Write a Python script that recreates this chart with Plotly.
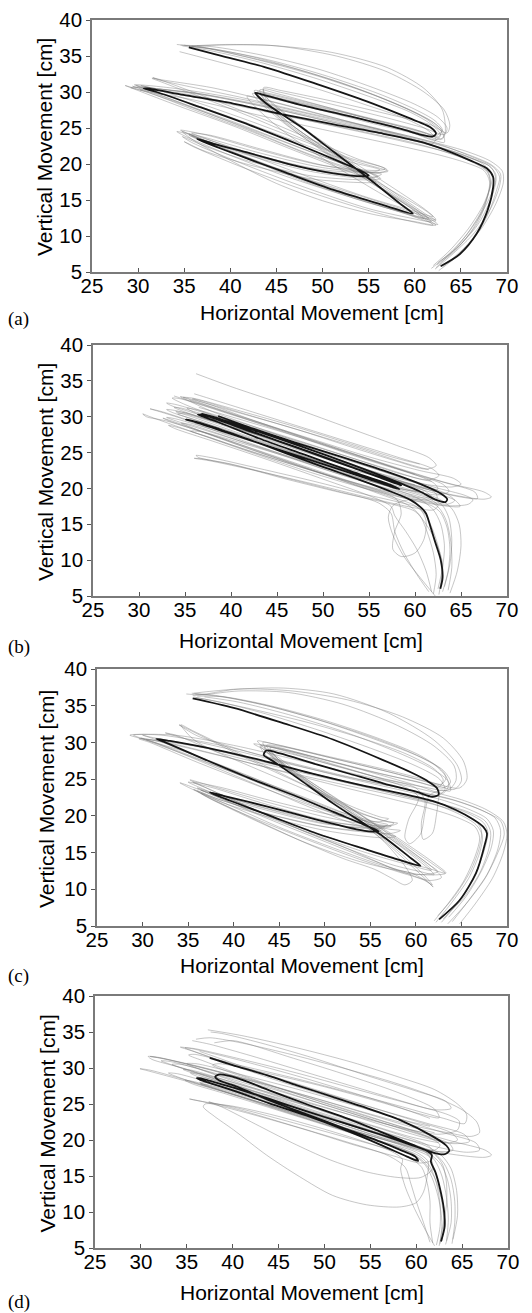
import plotly.graph_objects as go

# ---------------- data (cm) ----------------
x_tick_vals = [25, 30, 35, 40, 45, 50, 55, 60, 65, 70]
y_tick_vals = [5, 10, 15, 20, 25, 30, 35, 40]
panel_labels = ["(a)", "(b)", "(c)", "(d)"]
x_title = "Horizontal Movement [cm]"
y_title = "Vertical Movement [cm]"

# ---- panel (a) ----
a_mean = [(62.8,5.8),(64.9,7.5),(66.7,10.3),(67.9,13.6),(68.5,16.8),(68.5,18.2),(67.8,19.4),(66.0,20.5),(63.4,21.9),(60.9,23.0),(56.6,24.2),(51.2,25.5),(46.1,26.8),(40.3,28.4),(34.9,29.6),(31.0,30.5),(30.6,30.5),(32.0,30.0),(36.7,27.9),(42.1,25.4),(47.6,22.6),(51.9,20.3),(54.4,18.9),(55.0,18.4),(54.4,18.3),(51.2,18.7),(47.6,19.6),(42.1,21.5),(38.2,22.8),(36.4,23.5),(36.7,23.3),(40.3,21.5),(45.8,18.9),(51.2,16.4),(56.6,14.3),(59.8,13.1),(58.4,14.5),(54.8,18.2),(51.2,21.7),(47.6,25.2),(43.9,28.4),(42.7,29.9),(43.6,29.6),(47.6,28.2),(53.0,26.6),(58.4,24.9),(60.9,24.0),(61.9,23.8),(62.3,24.2),(61.8,25.0),(60.3,25.9),(58.4,26.9),(54.8,28.7),(49.4,31.1),(43.9,33.4),(38.5,35.2),(35.5,36.2)]
a_trial_1 = [(62.2,5.4),(64.2,7.6),(66.5,10.5),(68.3,14.0),(69.2,17.0),(69.3,18.6),(68.3,19.9),(66.0,21.2),(63.0,22.5),(57.0,24.5),(50.0,26.5),(42.0,28.8),(34.0,30.5),(29.6,31.0),(30.5,30.6),(36.0,28.3),(42.0,25.6),(48.0,22.7),(53.0,20.3),(56.2,19.2),(55.5,18.9),(50.0,19.5),(43.0,21.6),(37.5,23.6),(35.5,24.2),(36.2,23.8),(41.0,21.3),(48.0,18.0),(55.0,14.9),(60.5,12.6),(62.3,12.1),(61.0,13.2),(56.0,17.6),(50.0,23.0),(45.5,27.5),(43.5,29.8),(44.8,29.3),(50.0,27.8),(56.0,26.0),(61.0,24.4),(63.0,23.5),(63.3,24.3),(63.0,27.5),(61.0,30.5),(57.0,33.4),(51.0,35.5),(44.0,36.5),(38.5,36.5),(35.5,36.3)]
a_trial_2 = [(62.5,6.3),(64.5,8.3),(66.8,11.5),(68.2,15.0),(68.8,17.8),(68.3,19.5),(66.2,20.8),(63.5,22.0),(58.0,23.8),(51.0,25.8),(44.0,27.9),(37.0,29.6),(30.8,30.6),(29.2,30.6),(30.4,30.2),(35.0,28.2),(41.0,25.4),(47.0,22.5),(52.0,20.1),(55.8,18.4),(56.3,18.0),(55.2,17.8),(49.0,18.3),(42.0,20.4),(37.0,22.6),(34.8,23.8),(35.8,23.0),(41.0,20.2),(48.0,16.8),(55.0,13.8),(59.5,12.5),(61.8,12.0),(60.8,13.0),(56.0,16.8),(50.5,21.5),(46.0,25.5),(43.0,28.8),(42.4,29.8),(44.0,29.3),(50.0,27.4),(55.5,25.6),(60.0,24.2),(62.2,23.3),(62.8,24.0),(62.0,25.3),(59.5,27.2),(55.0,29.4),(49.0,32.0),(43.0,34.2),(38.0,35.7),(34.8,36.4)]
a_trial_3 = [(62.0,5.9),(63.8,8.0),(65.8,11.0),(67.5,14.5),(68.2,17.4),(67.8,19.0),(66.0,20.4),(63.0,21.8),(57.5,23.5),(50.0,25.6),(43.0,27.6),(37.0,29.3),(32.5,30.2),(30.2,30.3),(31.0,30.0),(36.5,27.3),(42.5,24.4),(48.5,21.3),(53.0,19.2),(54.6,18.7),(53.8,18.5),(48.0,19.5),(41.0,21.8),(36.2,23.7),(35.5,24.0),(36.5,23.4),(42.0,20.7),(49.0,17.3),(55.0,14.7),(59.0,13.1),(61.0,12.4),(60.0,13.5),(55.5,17.2),(50.0,21.8),(45.5,26.2),(43.8,28.8),(43.2,30.3),(45.0,29.8),(51.0,27.7),(57.0,25.5),(61.5,23.6),(63.2,23.0),(63.0,24.3),(61.3,26.2),(58.0,28.3),(52.0,31.3),(46.0,33.6),(40.0,35.4),(36.4,36.4)]
a_trial_4 = [(62.6,5.2),(64.6,7.2),(66.6,10.0),(68.0,13.2),(68.9,16.5),(69.2,18.2),(68.5,19.6),(66.2,21.0),(62.5,22.8),(56.0,24.9),(50.0,26.8),(44.0,28.8),(38.0,30.6),(33.0,31.6),(31.5,31.9),(32.5,31.4),(37.0,29.2),(42.5,26.4),(48.0,23.4),(53.0,20.8),(56.8,19.4),(57.1,19.0),(56.0,18.8),(50.0,19.2),(43.0,21.2),(37.0,23.6),(34.2,24.5),(35.2,23.8),(40.0,21.2),(46.0,18.3),(53.0,15.4),(58.5,13.3),(62.5,11.6),(61.2,12.8),(57.0,16.2),(51.0,21.2),(46.0,25.8),(43.4,28.6),(42.6,30.2),(44.2,29.8),(49.5,28.2),(55.0,26.4),(59.5,25.0),(62.4,24.0),(63.0,24.7),(62.2,26.0),(60.0,27.6),(56.0,29.8),(50.0,32.4),(44.0,34.5),(38.0,36.0),(34.2,36.6)]
a_trial_5 = [(62.9,6.6),(64.8,8.6),(66.8,11.8),(67.8,15.0),(68.1,17.6),(67.5,19.1),(65.5,20.2),(62.5,21.3),(57.0,22.9),(50.0,24.8),(43.0,26.8),(36.0,28.9),(30.5,30.2),(28.6,30.9),(29.8,30.3),(34.5,28.0),(40.5,25.2),(46.5,22.1),(51.5,19.6),(55.3,17.8),(55.8,17.5),(54.8,17.4),(49.0,17.9),(42.0,19.9),(37.0,21.9),(35.0,23.1),(36.0,22.4),(41.0,19.7),(47.5,16.6),(54.0,13.9),(59.0,12.2),(62.0,11.5),(60.5,12.8),(55.5,16.5),(50.0,20.8),(45.5,24.8),(42.5,28.2),(41.8,29.4),(43.5,29.0),(49.0,27.2),(54.5,25.3),(59.0,23.8),(61.8,22.8),(62.3,23.4),(61.5,24.6),(59.0,26.3),(54.5,28.3),(48.5,30.8),(42.5,32.9),(37.5,34.6),(34.5,35.6)]
a_trial_6 = [(62.3,5.6),(64.0,7.7),(66.0,10.8),(67.6,14.0),(68.6,16.8),(68.8,18.5),(68.0,19.8),(65.8,20.9),(62.8,22.2),(57.0,24.2),(50.5,26.0),(43.5,28.0),(36.5,29.8),(31.2,30.6),(29.8,30.9),(30.8,30.4),(36.0,27.8),(42.0,24.8),(47.5,21.9),(52.5,19.6),(55.6,18.6),(56.0,18.3),(55.0,18.0),(49.0,18.9),(42.0,21.2),(37.0,23.4),(34.8,24.5),(36.0,23.3),(40.0,20.5),(45.0,17.3),(50.0,14.9),(55.5,13.0),(60.0,12.0),(62.3,11.5),(61.0,12.6),(56.5,16.6),(51.0,21.4),(46.5,25.6),(44.0,28.5),(43.3,29.7),(45.0,29.2),(50.5,27.5),(56.0,25.7),(60.5,24.3),(62.8,23.4),(63.2,24.2),(62.3,25.5),(59.5,27.5),(55.0,29.9),(49.0,32.5),(43.0,34.7),(38.5,35.9),(35.8,36.3)]
a_trial_7 = [(62.4,6.0),(64.4,8.0),(66.3,11.0),(67.6,14.4),(68.2,17.2),(68.0,18.8),(66.8,20.0),(64.0,21.4),(60.0,22.9),(54.0,24.6),(47.0,26.4),(40.0,28.3),(34.0,29.8),(30.0,30.6),(29.4,30.8),(30.6,30.3),(35.5,28.1),(41.5,25.3),(47.5,22.3),(52.5,19.9),(55.4,18.8),(56.4,18.6),(55.6,18.2),(50.0,18.9),(43.0,21.0),(37.8,23.0),(35.8,23.9),(36.8,23.3),(41.5,20.9),(48.0,17.6),(54.5,14.8),(59.0,13.2),(61.5,12.4),(60.5,13.4),(56.0,17.3),(50.5,22.0),(46.0,26.0),(43.3,28.9),(42.9,30.0),(44.4,29.6),(50.0,27.9),(56.0,26.0),(60.5,24.5),(62.6,23.8),(62.9,24.6),(62.0,25.8),(59.8,27.3),(55.5,29.6),(49.5,32.2),(43.5,34.3),(38.5,35.8),(35.0,36.5)]
a_trial_8 = [(61.8,5.5),(63.6,7.4),(65.5,10.0),(67.2,13.4),(68.1,16.4),(68.4,18.4),(67.5,19.9),(65.2,21.3),(62.0,22.6),(56.5,24.5),(50.0,26.3),(43.0,28.3),(36.5,29.8),(31.8,30.5),(30.3,30.9),(31.3,30.6),(36.5,28.5),(42.5,25.8),(48.5,22.9),(53.5,20.4),(56.5,19.3),(57.0,19.1),(56.0,18.8),(50.5,19.7),(43.5,22.0),(37.8,24.0),(35.8,24.3),(37.0,23.7),(42.0,21.3),(48.5,18.2),(55.0,15.3),(59.8,13.5),(62.0,12.7),(61.0,13.8),(56.8,17.4),(51.5,21.8),(47.0,25.9),(44.2,28.8),(43.6,30.4),(45.3,30.0),(51.0,28.3),(57.0,26.4),(61.0,25.0),(63.2,24.1),(63.5,25.0),(62.5,26.5),(60.0,28.3),(55.5,30.6),(49.5,33.2),(43.5,35.1),(38.0,36.3),(34.6,36.5)]
a_trial_9 = [(63.0,5.7),(65.0,7.9),(67.2,11.0),(68.8,14.5),(69.6,17.4),(69.5,19.0),(68.2,20.4),(65.5,21.8),(61.5,23.2),(55.0,25.2),(48.0,27.2),(41.0,29.3),(35.0,30.9),(32.2,31.7),(31.6,32.0),(32.8,31.5),(38.0,29.0),(44.0,26.0),(49.5,23.0),(54.0,20.6),(56.4,19.6),(56.8,19.3),(55.8,19.1),(50.0,19.8),(43.0,22.0),(37.5,24.0),(34.6,24.7),(35.6,24.1),(40.5,21.6),(47.0,18.5),(54.0,15.6),(59.5,13.4),(62.3,12.3),(61.2,13.5),(56.6,17.0),(51.0,21.6),(46.3,25.8),(43.9,28.9),(43.6,30.6),(45.5,30.2),(51.5,28.6),(57.5,26.8),(61.8,25.4),(63.5,24.3),(63.8,25.4),(63.2,27.5),(61.0,30.0),(57.0,32.8),(51.5,35.0),(45.0,36.4),(39.5,36.6),(35.8,36.4)]

# ---- panel (b) ----
b_mean = [(62.75,6.0),(63.0,7.6),(62.8,10.0),(62.2,12.5),(61.6,15.0),(61.2,16.5),(60.6,17.4),(59.5,18.4),(57.5,19.5),(54.0,21.2),(50.0,23.0),(46.0,24.9),(42.0,26.8),(38.0,28.6),(35.6,29.5),(35.1,29.6),(35.8,29.4),(40.0,27.6),(45.0,25.5),(50.0,23.4),(55.0,21.3),(57.5,20.2),(58.3,19.9),(57.5,20.4),(53.0,22.4),(48.0,24.7),(43.0,27.0),(38.5,29.3),(36.4,30.3),(37.3,30.1),(42.0,28.0),(47.0,25.8),(52.0,23.5),(56.0,21.6),(58.5,20.4),(57.6,20.9),(53.0,23.0),(48.0,25.3),(43.0,27.6),(38.5,29.8),(36.8,30.4),(38.0,30.0),(43.0,27.9),(48.0,25.7),(53.0,23.4),(57.5,21.2),(60.5,19.6),(62.3,18.4),(63.3,18.1),(63.5,18.5),(62.8,19.3),(60.8,20.5),(57.0,22.3),(52.0,24.4),(47.0,26.4),(42.5,28.3),(38.6,30.1)]
b_trial_1 = [(62.0,5.3),(62.3,8.0),(62.0,11.0),(61.3,14.0),(60.5,16.3),(59.2,17.7),(56.0,19.3),(51.0,21.6),(45.0,24.3),(39.0,27.0),(33.0,29.4),(30.8,30.0),(30.4,30.4),(31.0,30.1),(36.0,27.8),(42.0,25.1),(48.0,22.5),(54.0,20.2),(59.0,18.6),(63.0,17.6),(64.9,17.5),(64.3,18.4),(60.0,20.1),(54.0,22.7),(48.0,25.3),(42.0,27.9),(37.0,30.1),(33.6,31.5),(33.0,31.9),(34.0,31.7),(40.0,29.4),(46.0,27.1),(52.0,24.7),(57.0,22.7),(60.5,21.3),(61.8,21.0)]
b_trial_2 = [(62.5,6.0),(63.0,9.0),(63.2,12.0),(62.8,15.0),(62.0,17.0),(60.5,18.5),(57.0,20.3),(52.0,22.6),(46.0,25.4),(40.0,28.1),(35.5,30.1),(34.0,30.7),(35.2,30.5),(40.0,28.6),(46.0,26.2),(52.0,23.7),(57.0,21.6),(61.0,20.0),(64.5,19.0),(67.5,18.5),(68.3,18.8),(67.5,19.5),(64.0,20.6),(60.0,22.0),(54.0,24.4),(48.0,27.0),(42.0,29.7),(37.5,31.8),(35.8,32.5),(36.6,32.3),(42.0,30.2),(48.0,27.9),(54.0,25.6),(59.0,23.5),(61.5,22.6)]
b_trial_3 = [(61.8,5.6),(61.2,8.5),(60.2,11.5),(59.0,14.0),(57.8,16.2),(57.4,17.5),(55.0,19.0),(50.0,21.3),(44.0,24.0),(38.0,26.6),(34.0,28.3),(33.2,28.8),(34.5,28.4),(40.0,26.1),(46.0,23.6),(52.0,21.3),(57.0,19.6),(61.0,18.4),(63.5,17.8),(64.3,18.3),(63.5,19.2),(60.0,20.8),(55.0,23.0),(49.0,25.7),(43.0,28.4),(38.0,30.7),(35.1,32.4),(34.5,32.8),(35.5,32.5),(41.0,30.5),(47.0,28.3),(53.0,25.8),(58.0,23.8),(61.2,22.7),(62.3,23.2),(61.5,24.3),(58.0,26.0),(52.0,28.8),(46.0,31.6),(40.0,34.2),(36.2,36.0)]
b_trial_4 = [(63.0,5.6),(63.6,8.5),(63.8,11.5),(63.5,14.5),(62.8,16.6),(61.8,17.6),(59.0,18.6),(54.0,20.5),(48.0,22.9),(42.0,25.5),(37.0,27.8),(33.5,29.3),(32.6,29.8),(33.8,29.3),(39.0,27.0),(45.0,24.4),(51.0,21.8),(56.0,19.8),(60.0,18.5),(63.5,17.6),(65.8,17.8),(66.3,18.4),(65.5,19.0),(62.0,20.2),(56.0,22.6),(50.0,25.0),(44.0,27.6),(38.5,30.0),(35.0,31.7),(33.6,32.6),(34.5,32.5),(40.0,30.3),(46.0,27.9),(52.0,25.4),(57.0,23.2),(60.0,22.0)]
b_trial_5 = [(62.8,6.5),(63.0,9.5),(62.3,12.5),(61.2,15.0),(60.0,16.8),(57.5,17.8),(52.0,19.4),(46.0,21.3),(40.5,23.2),(37.0,24.1),(36.0,24.2),(37.5,23.9),(43.0,22.4),(49.0,20.6),(55.0,18.7),(59.5,17.4),(62.0,17.0),(62.5,17.6),(61.5,18.6),(57.0,20.3),(51.0,22.6),(45.0,25.0),(39.0,27.4),(35.0,29.0),(33.0,29.9),(34.0,29.7),(39.0,27.8),(45.0,25.5),(51.0,23.3),(56.5,21.5),(60.0,20.5)]
b_trial_6 = [(63.6,5.8),(64.0,9.0),(63.9,12.5),(63.4,15.5),(62.6,17.3),(61.0,18.6),(57.0,20.0),(51.0,22.3),(45.0,25.0),(39.0,27.7),(34.5,29.8),(32.0,30.8),(31.2,31.1),(32.5,30.7),(38.0,28.4),(44.0,25.9),(50.0,23.2),(55.0,21.1),(59.5,19.7),(62.5,19.1),(63.7,19.6),(63.0,20.6),(59.5,22.1),(54.0,24.3),(48.0,26.9),(42.0,29.5),(37.5,31.5),(35.5,32.3)]
b_trial_7 = [(62.2,5.0),(60.6,7.5),(58.8,10.5),(57.6,13.5),(57.1,16.0),(57.6,17.6),(59.2,18.4),(61.0,18.4),(62.4,18.6),(62.2,19.4),(59.0,20.8),(53.0,23.1),(47.0,25.6),(41.0,28.2),(36.0,30.2),(33.8,31.3),(34.6,31.2),(40.0,29.1),(46.0,26.5),(52.0,23.9),(57.0,21.7),(60.5,20.3),(62.5,19.9),(62.0,20.8),(58.0,22.8),(52.0,25.3),(46.0,27.7),(40.0,30.0),(36.5,31.3)]
b_trial_8 = [(62.6,5.2),(62.9,8.0),(62.7,11.0),(62.0,14.0),(61.2,16.2),(60.0,17.6),(57.5,18.8),(53.0,20.7),(47.0,23.3),(41.0,26.0),(36.5,28.1),(34.6,29.1),(35.6,28.9),(41.0,26.6),(47.0,24.0),(53.0,21.5),(57.5,19.7),(60.5,18.7),(61.8,18.8),(61.0,19.7),(57.0,21.4),(51.0,24.0),(45.0,26.6),(39.5,29.0),(36.0,30.6),(35.2,31.2),(36.2,31.0),(41.5,29.0),(47.5,26.6),(53.5,24.1),(58.5,22.0),(61.5,21.2),(62.6,21.8),(61.8,22.8),(58.5,24.2),(53.0,26.4),(47.0,28.8),(41.0,31.2),(37.0,32.8),(36.0,33.2)]
b_trial_9 = [(63.2,6.3),(63.8,9.5),(64.0,12.8),(63.7,15.8),(63.0,17.6),(61.5,18.8),(58.0,20.2),(52.5,22.5),(46.5,25.1),(40.5,27.7),(36.0,29.6),(34.2,30.4),(35.0,30.4),(40.0,28.4),(46.0,25.9),(52.0,23.4),(57.5,21.2),(61.5,19.8),(65.0,18.8),(66.8,18.6),(66.5,19.5),(63.0,20.9),(57.5,23.1),(51.5,25.6),(45.5,28.2),(40.0,30.5),(36.0,32.2),(34.8,32.7),(35.8,32.6),(41.0,30.8),(47.0,28.6),(53.0,26.2),(58.0,24.2),(60.5,23.4)]
b_trial_10 = [(61.5,5.6),(60.2,8.0),(58.8,11.0),(57.8,14.0),(57.4,16.5),(56.0,18.0),(51.0,19.8),(45.5,21.6),(40.0,23.4),(36.5,24.3),(36.2,24.6),(37.8,24.3),(43.0,22.8),(49.0,21.0),(54.5,19.2),(58.5,18.0),(60.5,17.2),(61.2,15.5),(61.0,13.0),(60.0,11.0),(58.5,10.5),(57.6,11.5),(57.8,14.0),(58.5,16.5),(58.0,18.5),(54.0,20.4),(48.0,22.8),(42.0,25.2),(37.5,27.2),(35.6,28.0),(36.8,27.9),(42.0,26.0),(48.0,23.7),(54.0,21.4),(58.5,19.9),(61.0,19.5)]
b_trial_11 = [(63.8,5.4),(64.6,8.5),(65.0,12.0),(64.8,15.0),(64.0,17.2),(62.5,18.6),(59.0,20.0),(53.5,22.1),(47.5,24.6),(41.5,27.2),(36.5,29.4),(33.6,30.6),(33.0,31.0),(34.2,30.8),(39.5,28.8),(45.5,26.4),(51.5,23.9),(57.0,21.8),(61.0,20.6),(64.0,20.2),(65.0,20.6),(64.2,21.4),(60.5,22.5),(55.0,24.4),(49.0,26.8),(43.0,29.2),(38.0,31.2),(35.0,32.4),(33.8,32.9)]

# ---- panel (c) ----
c_mean = [(62.55,5.9),(64.8,8.5),(66.6,12.2),(67.5,15.8),(67.8,17.6),(67.4,18.5),(66.3,19.5),(64.4,20.8),(61.9,22.0),(58.2,23.1),(54.6,24.0),(49.1,25.6),(43.6,27.4),(38.1,29.0),(33.0,30.2),(31.5,30.5),(32.5,30.0),(37.0,27.6),(42.0,25.0),(47.0,22.6),(51.0,20.5),(54.3,18.8),(55.9,17.9),(54.8,17.9),(53.8,18.1),(49.1,19.5),(43.6,21.3),(39.0,22.7),(37.4,23.2),(38.5,22.6),(43.6,20.2),(49.1,17.6),(54.6,15.4),(58.2,14.0),(60.5,13.2),(59.5,14.2),(56.4,17.2),(50.9,21.7),(47.3,24.9),(44.4,27.4),(43.3,28.3),(43.6,28.9),(45.1,28.5),(49.1,27.0),(52.8,25.7),(56.5,24.4),(60.0,23.3),(61.8,22.6),(62.5,22.9),(62.3,23.8),(61.2,24.8),(59.5,25.9),(56.4,27.6),(50.9,30.4),(45.5,32.6),(40.0,34.7),(35.5,36.0)]
c_trial_1 = [(63.5,5.3),(65.5,8.0),(67.6,11.5),(69.0,15.0),(69.7,17.5),(69.3,19.3),(67.5,20.6),(64.5,22.0),(59.0,23.6),(53.0,25.2),(46.0,27.3),(39.0,29.5),(32.0,31.0),(29.0,31.0),(30.0,30.5),(35.0,28.2),(41.0,25.4),(47.0,22.5),(52.0,20.2),(56.0,18.8),(57.3,18.6),(56.2,18.3),(50.0,19.4),(43.0,21.8),(37.5,23.9),(35.0,24.6),(36.2,23.9),(41.0,21.4),(47.0,18.6),(53.0,16.0),(58.5,13.8),(61.5,12.8),(63.2,12.2),(62.0,13.3),(57.5,17.2),(52.0,21.6),(47.0,25.5),(44.0,28.5),(43.2,30.0),(45.0,29.6),(51.0,27.8),(57.0,26.0),(61.5,24.5),(64.2,23.6),(65.0,24.8),(64.5,27.0),(62.0,30.3),(57.0,34.0),(51.0,36.6),(45.5,37.4),(40.0,37.2),(36.3,36.5),(34.8,36.6)]
c_trial_2 = [(62.2,5.5),(64.0,8.3),(65.8,11.5),(67.0,15.0),(67.3,17.3),(66.6,18.8),(64.8,20.2),(62.0,21.6),(57.0,23.2),(51.0,25.0),(44.0,27.1),(37.0,29.2),(31.5,30.3),(29.6,30.5),(30.8,30.0),(36.0,27.3),(42.0,24.4),(48.0,21.6),(53.0,19.5),(57.0,18.2),(58.3,18.0),(57.2,17.6),(51.0,18.3),(44.0,20.2),(38.5,22.2),(36.0,23.4),(37.0,22.6),(42.0,19.8),(48.0,16.8),(54.0,14.0),(58.0,12.4),(60.8,11.3),(61.8,10.6),(61.0,11.8),(57.5,15.8),(52.0,21.2),(47.5,25.2),(44.5,27.8),(43.0,29.5),(45.0,29.2),(50.5,27.5),(56.0,25.6),(60.5,24.0),(63.0,23.1),(63.6,24.2),(63.0,26.0),(60.5,28.2),(56.0,30.5),(50.0,33.0),(44.0,35.0),(39.0,36.2),(36.0,36.3)]
c_trial_3 = [(63.0,6.0),(65.2,8.8),(67.0,12.2),(68.0,15.5),(68.2,17.8),(67.6,19.3),(65.6,20.6),(62.5,21.7),(58.0,22.9),(52.0,24.6),(45.0,26.6),(38.0,28.8),(35.5,30.5),(34.2,32.4),(35.5,31.6),(40.0,28.9),(45.0,25.9),(50.0,22.8),(54.0,20.4),(56.5,19.3),(57.6,19.0),(56.8,18.6),(51.0,19.6),(44.5,21.6),(38.0,23.9),(35.2,24.9),(36.5,24.1),(41.5,21.3),(47.0,18.3),(52.0,15.8),(56.0,13.6),(58.5,12.3),(60.5,12.0),(62.4,12.4),(61.4,13.4),(57.0,17.5),(51.5,22.2),(46.5,26.2),(43.8,28.8),(42.6,30.2),(44.0,29.9),(50.0,28.2),(56.0,26.5),(60.5,25.1),(62.8,24.3),(63.3,25.2),(62.2,26.8),(59.5,28.6),(55.0,30.8),(49.0,33.2),(43.0,35.2),(38.0,36.4),(35.4,36.7)]
c_trial_4 = [(62.0,5.7),(63.5,8.0),(65.2,11.0),(66.5,14.5),(67.0,17.0),(66.5,18.5),(64.5,19.8),(61.5,21.0),(57.0,22.4),(51.0,24.2),(44.5,26.3),(38.0,28.4),(33.0,29.9),(30.4,30.4),(31.5,29.9),(37.0,27.1),(43.0,24.0),(48.5,21.1),(53.0,19.0),(56.8,17.5),(57.8,17.2),(56.6,17.0),(50.5,17.9),(44.0,19.8),(39.0,21.7),(36.4,23.1),(37.5,22.3),(42.5,19.3),(48.0,16.3),(53.5,13.9),(57.0,12.8),(59.5,12.2),(61.3,11.0),(61.9,10.3),(61.2,11.2),(59.5,13.2),(56.5,16.6),(52.0,20.8),(47.5,24.8),(44.8,27.8),(44.0,29.3),(45.8,28.9),(51.0,27.0),(56.0,25.1),(59.0,23.8),(60.3,22.5),(59.2,19.5),(58.8,17.0),(59.3,16.2),(60.5,17.5),(61.0,20.5),(61.5,22.8),(62.8,23.5),(63.8,23.4),(63.5,24.8),(61.5,26.6),(57.5,28.9),(52.0,31.5),(46.0,33.8),(40.5,35.5),(36.8,36.2)]
c_trial_5 = [(64.8,5.3),(66.5,8.0),(68.4,11.5),(69.6,15.0),(70.0,17.5),(69.6,19.2),(67.8,20.8),(65.0,22.2),(60.0,23.8),(54.0,25.5),(47.0,27.6),(40.0,29.6),(33.5,31.0),(28.6,31.0),(29.6,30.6),(34.5,28.8),(40.5,26.0),(46.5,23.0),(51.5,20.6),(55.5,19.2),(56.9,18.8),(55.8,18.4),(50.0,18.9),(43.5,20.8),(38.0,22.8),(34.1,24.5),(35.5,23.6),(40.0,21.2),(45.5,18.2),(51.0,15.6),(56.5,13.2),(60.5,12.0),(63.3,12.2),(62.3,13.3),(58.0,17.0),(52.5,21.3),(47.8,25.2),(44.5,28.3),(42.2,29.8),(44.0,29.4),(50.0,27.2),(56.0,25.2),(61.0,23.9),(63.5,23.5),(64.4,24.8),(64.2,26.8),(62.0,29.5),(58.0,32.3),(52.0,35.2),(46.0,36.8),(40.5,37.0),(36.8,36.5),(35.5,36.4)]
c_trial_6 = [(63.6,6.2),(65.5,9.0),(67.2,12.5),(68.3,15.8),(68.5,18.0),(67.8,19.6),(65.8,20.9),(62.8,22.2),(58.0,23.6),(52.0,25.3),(46.0,27.2),(40.0,29.3),(36.0,30.9),(34.0,32.4),(35.0,31.8),(39.5,29.0),(44.5,26.0),(49.5,23.2),(53.5,21.0),(56.2,19.8),(57.0,19.6),(56.0,19.2),(50.5,20.2),(44.0,22.1),(38.5,23.9),(35.5,24.6),(37.0,23.8),(42.0,21.0),(47.5,18.0),(53.0,15.3),(57.5,13.3),(60.5,12.4),(62.0,12.0),(61.0,13.2),(56.5,17.5),(51.0,22.0),(46.5,25.6),(43.5,28.3),(42.9,29.6),(44.6,29.4),(50.0,27.6),(55.5,25.9),(60.0,24.7),(62.6,24.0),(63.0,24.9),(62.0,26.4),(59.0,28.4),(54.5,30.4),(48.5,32.6),(42.5,34.4),(38.0,35.6),(35.6,36.2)]
c_trial_7 = [(62.8,5.5),(64.6,8.2),(66.4,11.8),(67.5,15.3),(67.9,17.8),(67.4,19.1),(65.8,20.3),(63.2,21.5),(59.0,22.8),(53.0,24.5),(46.5,26.4),(40.0,28.4),(34.0,30.0),(30.6,30.8),(30.0,31.0),(31.2,30.5),(36.2,28.0),(42.0,25.2),(47.8,22.5),(52.5,20.2),(55.6,18.8),(56.6,18.5),(55.6,18.2),(50.0,19.0),(43.8,20.9),(38.5,22.8),(36.0,23.8),(37.2,23.1),(42.5,20.4),(48.5,17.6),(54.5,15.0),(59.0,13.4),(61.7,12.6),(60.8,13.7),(56.6,17.4),(51.0,22.0),(46.8,25.6),(44.0,28.2),(43.4,29.4),(45.0,29.1),(50.5,27.5),(56.0,25.8),(60.5,24.5),(63.0,23.8),(63.8,24.6),(63.0,26.2),(60.5,28.0),(56.0,30.2),(50.0,32.8),(44.0,34.9),(38.8,36.2),(35.8,36.6)]
c_trial_8 = [(64.0,5.6),(65.8,8.5),(67.8,12.0),(69.0,15.5),(69.3,18.0),(68.7,19.7),(66.8,21.0),(63.8,22.3),(59.5,23.5),(53.5,25.0),(47.0,26.8),(40.5,28.8),(35.0,30.4),(32.5,31.3),(33.6,31.0),(38.5,28.5),(44.0,25.6),(49.5,22.7),(54.0,20.3),(57.0,19.2),(58.0,19.0),(57.0,18.6),(51.5,19.0),(45.0,20.6),(39.0,22.6),(36.4,23.5),(37.6,22.9),(43.0,20.0),(49.0,17.0),(54.5,14.3),(58.5,12.4),(61.5,11.2),(62.8,11.6),(62.0,12.8),(58.0,16.4),(52.5,21.0),(48.0,24.8),(45.0,27.6),(43.6,29.6),(45.4,29.4),(51.0,27.8),(57.0,26.0),(61.5,24.6),(64.8,23.8),(65.6,25.0),(65.2,27.5),(63.0,30.6),(58.5,33.5),(52.5,35.8),(46.5,37.0),(41.0,37.3),(37.0,36.9),(35.6,36.7)]
c_trial_9 = [(62.4,6.4),(64.2,9.0),(66.0,12.5),(67.0,15.8),(67.2,18.0),(66.5,19.4),(64.5,20.6),(61.5,21.7),(57.5,22.8),(51.5,24.4),(45.0,26.2),(38.5,28.2),(33.0,29.8),(29.8,30.6),(30.9,30.2),(36.5,27.6),(42.5,24.6),(48.0,21.8),(52.5,19.6),(55.5,18.3),(56.2,18.0),(55.0,17.9),(49.5,18.6),(43.0,20.5),(38.0,22.4),(35.6,23.6),(36.8,22.8),(41.5,20.0),(47.0,16.8),(52.0,14.2),(55.5,12.7),(57.5,11.4),(58.8,10.6),(59.6,11.2),(59.0,12.8),(56.5,16.5),(52.0,21.0),(47.5,24.9),(44.6,27.6),(43.8,29.0),(45.4,28.7),(51.0,26.9),(56.5,25.0),(60.0,23.8),(61.0,22.0),(60.6,19.0),(60.8,16.8),(61.8,17.6),(62.3,20.5),(62.6,22.8),(63.2,23.6),(62.6,25.0),(60.0,26.8),(55.5,29.0),(49.5,31.6),(43.5,33.9),(38.5,35.5),(35.8,36.1)]

# ---- panel (d) ----
d_mean = [(62.7,5.9),(63.1,8.0),(63.0,10.5),(62.6,13.2),(62.1,15.5),(61.6,17.0),(61.7,17.9),(61.0,18.6),(59.5,19.3),(56.0,20.8),(52.0,22.4),(48.0,24.0),(44.0,25.7),(40.0,27.3),(37.0,28.4),(36.1,28.6),(36.8,28.2),(40.0,26.9),(44.0,25.1),(48.0,23.4),(52.0,21.5),(56.0,19.4),(59.0,17.7),(60.2,17.1),(59.9,17.7),(58.5,18.5),(56.0,19.8),(52.0,21.7),(48.0,23.6),(44.0,25.5),(40.5,27.4),(38.5,28.3),(38.1,28.8),(38.6,29.1),(40.5,28.6),(44.0,26.9),(48.0,25.0),(52.0,23.2),(56.0,21.2),(59.5,19.4),(61.5,18.4),(63.0,18.0),(63.6,18.5),(63.3,19.2),(61.8,20.5),(58.2,22.8),(54.0,24.7),(50.9,26.0),(47.0,27.6),(43.7,29.0),(40.0,30.4),(37.5,31.4)]
d_trial_1 = [(62.2,5.4),(62.6,8.0),(62.6,11.0),(62.2,14.0),(61.5,16.3),(60.3,17.8),(57.0,19.4),(52.0,21.4),(46.0,23.8),(40.0,26.3),(35.0,28.3),(33.0,29.3),(34.0,29.2),(39.0,27.4),(45.0,25.0),(51.0,22.5),(56.0,20.4),(60.0,19.0),(64.0,18.0),(67.5,17.6),(68.2,17.9),(67.5,18.6),(64.0,19.8),(59.0,21.6),(53.0,23.9),(47.0,26.4),(41.0,29.0),(37.0,30.9),(35.2,31.8),(35.8,31.9),(41.0,30.3),(47.0,28.5),(53.0,26.5),(58.5,24.6),(63.0,23.0),(65.3,22.3),(65.5,23.5),(64.5,25.0),(62.0,27.0),(58.2,28.7),(53.0,30.8),(47.0,32.8),(41.0,34.5),(37.3,35.3)]
d_trial_2 = [(63.2,5.5),(63.8,8.5),(63.8,11.5),(63.4,14.5),(62.7,16.6),(61.5,18.0),(58.5,19.3),(53.0,21.3),(47.0,23.6),(41.0,26.0),(35.0,28.3),(31.0,29.7),(29.9,29.9),(30.8,29.6),(36.0,27.8),(42.0,25.6),(48.0,23.3),(54.0,21.0),(59.0,19.2),(62.5,18.4),(64.0,18.6),(63.6,19.5),(60.5,20.8),(55.0,22.9),(49.0,25.3),(43.0,27.8),(37.0,30.0),(32.5,31.3),(31.0,31.6),(32.0,31.4),(37.5,29.8),(43.5,27.8),(49.5,25.6),(55.0,23.5),(59.5,21.8),(62.0,21.0)]
d_trial_3 = [(61.8,5.7),(61.5,8.5),(61.5,11.5),(61.2,14.0),(60.6,16.2),(59.2,17.6),(55.0,19.5),(50.0,21.5),(44.0,23.6),(39.5,24.8),(37.0,25.0),(36.8,24.6),(38.0,23.3),(40.1,21.4),(43.7,17.9),(47.3,14.9),(50.9,12.3),(54.6,11.0),(58.2,10.7),(60.0,11.3),(60.8,12.8),(61.2,15.0),(61.3,17.0),(60.0,18.3),(56.0,19.9),(50.0,22.3),(44.0,24.8),(39.0,26.8),(36.5,27.8),(37.2,27.7),(42.0,26.0),(48.0,23.8),(54.0,21.6),(58.5,20.0)]
d_trial_4 = [(62.5,5.3),(62.9,8.0),(63.3,11.0),(63.3,14.0),(62.9,16.5),(62.0,18.0),(59.0,19.5),(54.0,21.6),(48.0,24.0),(42.0,26.6),(37.0,28.7),(34.6,29.8),(35.5,29.7),(41.0,27.6),(47.0,25.2),(53.0,22.6),(58.0,20.5),(62.0,19.1),(65.5,18.3),(66.9,18.6),(66.5,19.6),(63.0,21.0),(57.0,23.4),(51.0,25.8),(45.0,28.2),(39.5,30.6),(35.5,32.4),(34.3,32.9),(35.5,32.7),(41.0,31.0),(47.0,28.9),(53.0,26.6),(58.0,24.6),(61.5,23.0)]
d_trial_5 = [(62.0,5.3),(61.0,7.5),(59.8,10.5),(58.8,13.5),(58.3,16.0),(58.5,17.3),(57.0,18.6),(52.0,20.5),(46.0,22.6),(40.0,24.6),(36.0,25.5),(35.3,25.7),(36.5,25.4),(42.0,23.6),(48.0,21.4),(53.0,19.4),(57.5,17.8),(60.5,16.8),(61.6,17.2),(61.0,18.3),(57.0,20.2),(51.0,22.8),(45.0,25.2),(40.0,27.2),(36.2,28.8),(35.4,29.3),(36.5,29.2),(42.0,27.3),(48.0,25.2),(54.0,23.1),(59.0,21.5),(62.5,20.8),(64.5,21.4),(64.7,22.6),(63.5,23.5),(60.0,24.8),(54.0,27.1),(48.0,29.4),(42.0,31.7),(37.5,33.3),(35.6,33.8)]
d_trial_6 = [(63.9,5.6),(64.2,8.5),(64.2,11.5),(63.8,14.5),(63.0,16.8),(61.8,18.3),(58.5,19.9),(53.0,22.2),(47.0,24.7),(41.0,27.3),(36.0,29.3),(33.0,30.6),(32.2,31.0),(33.2,30.9),(38.0,29.3),(44.0,27.2),(50.0,24.9),(56.0,22.5),(60.5,20.7),(63.5,19.6),(64.5,20.0),(63.8,21.0),(60.0,22.6),(54.0,25.0),(48.0,27.4),(42.0,29.8),(38.0,31.6),(36.4,32.3)]
d_trial_7 = [(62.8,6.0),(63.0,8.8),(62.7,12.0),(62.0,14.8),(60.8,17.0),(59.0,18.5),(55.0,20.2),(49.0,22.6),(43.0,25.1),(38.0,27.2),(36.4,28.0),(37.3,27.9),(43.0,25.9),(49.0,23.7),(55.0,21.3),(59.0,19.6),(62.0,18.6),(62.6,19.3),(61.0,20.6),(56.0,22.8),(50.0,25.2),(44.0,27.6),(39.5,29.5),(37.8,30.4),(38.5,30.6),(44.0,29.2),(50.0,27.4),(56.0,25.3),(60.5,23.6),(62.5,23.1),(62.0,24.3),(58.0,26.6),(52.0,29.2),(46.0,31.6),(41.5,33.4),(40.0,33.8),(38.0,33.5)]
d_trial_8 = [(62.6,5.6),(62.8,8.5),(62.5,11.5),(61.9,14.2),(61.0,16.5),(59.6,18.0),(56.0,19.7),(50.5,21.9),(44.5,24.3),(39.0,26.5),(35.6,27.8),(34.8,28.3),(35.8,28.1),(41.0,26.2),(47.0,24.0),(53.0,21.7),(57.5,19.8),(60.5,18.6),(61.8,18.5),(61.2,19.3),(57.5,21.0),(52.0,23.2),(46.0,25.7),(40.5,28.0),(36.5,29.8),(35.0,30.6),(36.0,30.6),(41.5,28.9),(47.5,26.9),(53.5,24.7),(58.5,22.8),(61.5,21.9)]
d_trial_9 = [(63.3,6.0),(63.5,9.0),(63.3,12.0),(62.8,15.0),(62.0,17.2),(60.5,18.8),(57.0,20.5),(51.5,22.7),(45.5,25.2),(40.0,27.6),(35.5,29.6),(33.4,30.5),(34.4,30.5),(39.5,28.6),(45.5,26.3),(51.5,24.0),(57.0,21.8),(61.0,20.3),(64.0,19.5),(65.8,19.8),(65.2,20.8),(61.5,22.2),(56.0,24.2),(50.0,26.5),(44.0,28.9),(39.0,30.9),(35.6,32.4),(34.8,32.8),(35.8,32.7),(41.0,31.2),(47.0,29.3),(53.0,27.2),(58.5,25.3),(62.0,24.2),(63.8,24.4),(63.2,25.4),(60.0,26.8),(54.5,29.0),(48.5,31.5),(43.0,33.5),(38.8,34.8),(37.6,35.0)]
d_trial_10 = [(61.5,5.8),(60.8,8.5),(60.0,11.5),(59.4,14.0),(58.8,16.2),(57.0,17.8),(52.0,19.9),(46.0,22.2),(41.0,24.1),(38.0,25.1),(37.4,25.3),(38.8,24.6),(42.5,22.2),(46.5,19.6),(50.5,17.3),(54.5,15.6),(58.0,14.8),(60.5,14.8),(61.8,16.0),(61.5,17.6),(58.5,19.2),(53.0,21.4),(47.0,23.9),(41.5,26.2),(37.5,27.9),(36.0,28.6),(37.0,28.6),(42.5,26.7),(48.5,24.6),(54.5,22.3),(59.5,20.4),(62.5,19.6)]
d_trial_11 = [(64.0,6.2),(64.5,9.5),(64.4,13.0),(63.8,16.0),(62.8,17.8),(61.0,19.2),(57.0,20.8),(51.5,23.0),(45.5,25.5),(39.5,28.0),(34.5,30.0),(31.2,31.2),(30.8,31.6),(31.8,31.5),(37.0,29.9),(43.0,27.9),(49.0,25.8),(55.0,23.6),(60.0,21.9),(63.5,21.0),(66.0,20.5),(66.9,21.0),(66.6,22.5),(65.0,24.2),(62.0,26.0),(57.5,28.0),(52.0,30.0),(46.0,32.0),(40.5,33.6),(37.5,34.2),(36.0,34.0)]

panel_means = [a_mean, b_mean, c_mean, d_mean]
panel_trials = [
    [a_trial_1, a_trial_2, a_trial_3, a_trial_4, a_trial_5, a_trial_6, a_trial_7, a_trial_8, a_trial_9],
    [b_trial_1, b_trial_2, b_trial_3, b_trial_4, b_trial_5, b_trial_6, b_trial_7, b_trial_8, b_trial_9, b_trial_10, b_trial_11],
    [c_trial_1, c_trial_2, c_trial_3, c_trial_4, c_trial_5, c_trial_6, c_trial_7, c_trial_8, c_trial_9],
    [d_trial_1, d_trial_2, d_trial_3, d_trial_4, d_trial_5, d_trial_6, d_trial_7, d_trial_8, d_trial_9, d_trial_10, d_trial_11],
]

# ---------------- layout (pixels) ----------------
W, H = 532, 1313
boxes = [(92, 507, 20, 272), (93, 507, 345, 596), (97, 507, 669, 926), (95, 508, 996, 1248)]
xtitle_pos = [(322, 313), (301, 640), (301.5, 965), (301.5, 1292)]
ytitle_pos = [(45, 147), (46, 472), (46.5, 799.5), (46.5, 1124)]
label_pos = [(6, 318.5), (6, 647), (6, 976), (6, 1302)]

SANS = "Liberation Sans, Arial, sans-serif"
SERIF = "Liberation Serif, Times New Roman, serif"

fig = go.Figure()
for i in range(4):
    sfx = "" if i == 0 else str(i + 1)
    for tr in panel_trials[i]:
        fig.add_trace(go.Scatter(
            x=[p[0] for p in tr], y=[p[1] for p in tr], mode="lines",
            line=dict(color="rgba(120,120,120,0.42)", width=1, shape="spline", smoothing=0.8),
            xaxis="x" + sfx, yaxis="y" + sfx, hoverinfo="skip", showlegend=False))
    m = panel_means[i]
    fig.add_trace(go.Scatter(
        x=[p[0] for p in m], y=[p[1] for p in m], mode="lines",
        line=dict(color="#161616", width=1.8, shape="spline", smoothing=0.8),
        xaxis="x" + sfx, yaxis="y" + sfx, hoverinfo="skip", showlegend=False))

layout = dict(width=W, height=H, margin=dict(l=0, r=0, t=0, b=0, pad=0), autosize=False,
              paper_bgcolor="white", plot_bgcolor="white", showlegend=False)
annotations = []
for i, (x0, x1, y0, y1) in enumerate(boxes):
    sfx = "" if i == 0 else str(i + 1)
    layout["xaxis" + sfx] = dict(
        domain=[x0 / W, x1 / W], range=[25, 70], anchor="y" + sfx, automargin=False,
        tickvals=x_tick_vals, ticktext=[str(v) for v in x_tick_vals],
        ticks="inside", ticklen=4, tickwidth=1, tickcolor="#555", ticklabelstandoff=-5,
        showline=True, linecolor="#7a7a7a", linewidth=1.5, mirror=True,
        showgrid=False, zeroline=False,
        tickfont=dict(family=SANS, size=20.5, color="black"))
    layout["yaxis" + sfx] = dict(
        domain=[1 - y1 / H, 1 - y0 / H], range=[5, 40], anchor="x" + sfx, automargin=False,
        tickvals=y_tick_vals, ticktext=[str(v) for v in y_tick_vals],
        ticks="outside", ticklen=4, tickwidth=1, tickcolor="#555",
        showline=True, linecolor="#7a7a7a", linewidth=1.5, mirror=True,
        showgrid=False, zeroline=False,
        tickfont=dict(family=SANS, size=20.5, color="black"))
    tx, ty = xtitle_pos[i]
    annotations.append(dict(text=x_title, x=tx / W, y=1 - ty / H, xref="paper", yref="paper",
                            xanchor="center", yanchor="middle", showarrow=False,
                            font=dict(family=SANS, size=21, color="black")))
    vx, vy = ytitle_pos[i]
    annotations.append(dict(text=y_title, x=vx / W, y=1 - vy / H, xref="paper", yref="paper",
                            xanchor="center", yanchor="middle", showarrow=False, textangle=-90,
                            font=dict(family=SANS, size=21, color="black")))
    lx, ly = label_pos[i]
    annotations.append(dict(text=panel_labels[i], x=lx / W, y=1 - ly / H, xref="paper", yref="paper",
                            xanchor="left", yanchor="middle", showarrow=False,
                            font=dict(family=SERIF, size=19, color="black")))
layout["annotations"] = annotations
fig.update_layout(**layout)
fig.write_html(
    "out.html",
    config={"displayModeBar": False},
    post_script="document.body.style.margin='0px';document.body.style.padding='0px';document.body.style.overflow='hidden';",
)
